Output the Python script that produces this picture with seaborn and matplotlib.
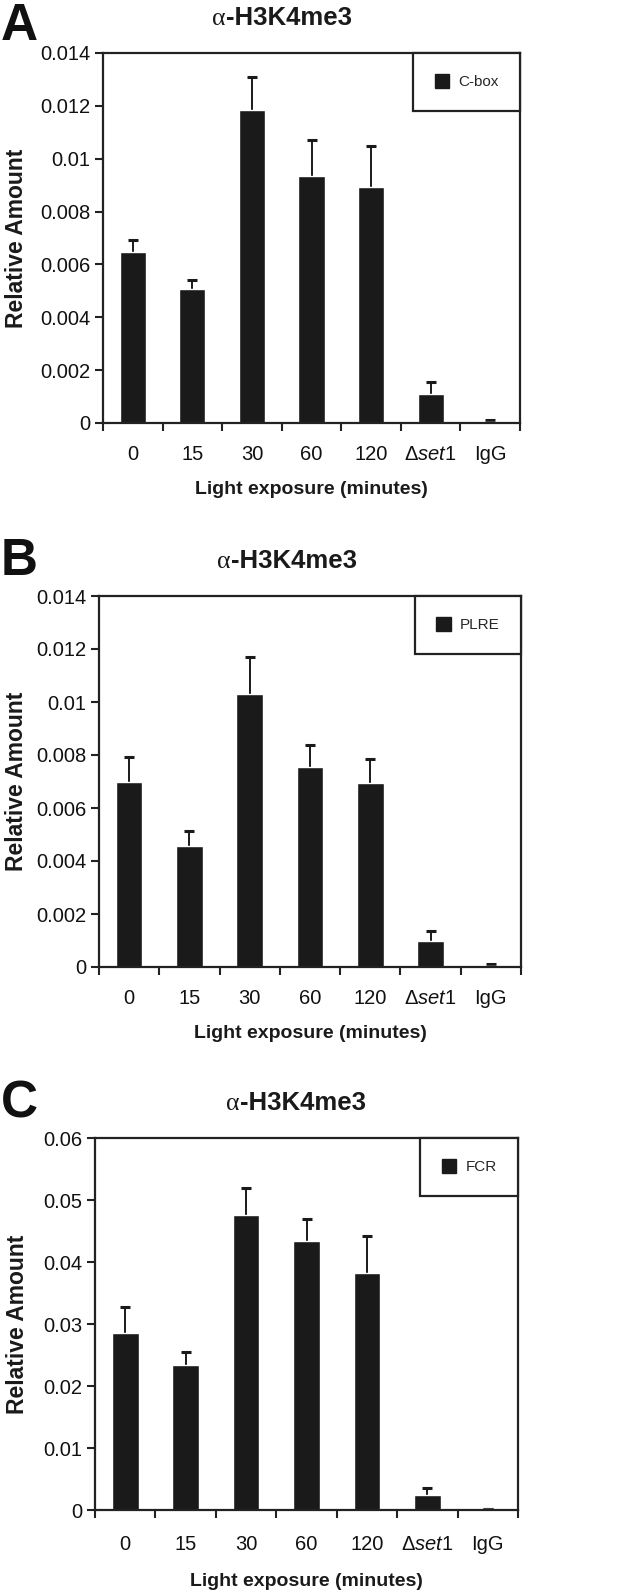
import matplotlib
matplotlib.use("Agg")
import matplotlib.pyplot as plt
import numpy as np
import pandas as pd
import seaborn as sns
from matplotlib.patches import Patch
from matplotlib.ticker import FuncFormatter, FixedLocator
from matplotlib.offsetbox import TextArea, HPacker, AnchoredOffsetbox

sns.set_theme(style="white")
plt.rcParams["font.family"] = ["Liberation Sans", "DejaVu Sans"]
plt.rcParams["mathtext.fontset"] = "custom"
plt.rcParams["mathtext.rm"] = "Liberation Sans"
plt.rcParams["mathtext.it"] = "Liberation Sans:italic"

conditions = ["0", "15", "30", "60", "120", "Δ$\\mathit{set1}$", "IgG"]

cbox_vals = [0.00646, 0.00506, 0.01184, 0.00935, 0.00894, 0.00110, 0.00005]
cbox_err = [0.00045, 0.00036, 0.00126, 0.00136, 0.00154, 0.00044, 0.00005]

plre_vals = [0.00697, 0.00455, 0.01032, 0.00755, 0.00696, 0.00100, 0.00005]
plre_err = [0.00095, 0.00057, 0.00138, 0.00083, 0.00090, 0.00037, 0.00005]

fcr_vals = [0.0285, 0.0234, 0.0476, 0.0434, 0.0383, 0.0024, 0.0002]
fcr_err = [0.0042, 0.0021, 0.0043, 0.0036, 0.0059, 0.0011, 0.0000]

panel_letters = ["A", "B", "C"]
regions = ["C-box", "PLRE", "FCR"]
y_max = [0.014, 0.014, 0.06]
y_step = [0.002, 0.002, 0.01]

W, H = 633, 1594
BAR = "#1a1a1a"
LINE = "#222222"

# axes boxes in pixels: left, top, right, bottom
boxes = [(103, 53, 520, 423), (99, 596, 521, 967), (95, 1138, 518, 1510)]
title_x = [282, 287, 296]
letter_base = [40, 575, 1118]
xlab_off = [66, 66, 71]
tick_pad = [16, 16, 18]

fig = plt.figure(figsize=(W / 100, H / 100), dpi=100)


def draw_panel(i, vals, errs):
    l, t, r, b = boxes[i]
    ax = fig.add_axes([l / W, 1 - b / H, (r - l) / W, (b - t) / H])
    df = pd.DataFrame({"cond": conditions, "value": vals})
    x = np.arange(len(vals))
    # error bars sit under the bars so only the upper half shows
    ax.errorbar(x, vals, yerr=errs, fmt="none", ecolor=BAR, elinewidth=1.4,
                capsize=3.5, capthick=2.2, zorder=0.5)
    sns.barplot(data=df, x="cond", y="value", color=BAR, saturation=1,
                width=0.44, errorbar=None, ax=ax, zorder=2)

    ax.set_xlim(-0.5, len(vals) - 0.5)
    ax.set_ylim(0, y_max[i])
    ax.set_yticks(np.arange(0, y_max[i] + y_step[i] / 2, y_step[i]))
    ax.yaxis.set_major_formatter(FuncFormatter(lambda v, p: f"{round(v, 4):g}"))
    ax.xaxis.set_minor_locator(FixedLocator(np.arange(-0.5, len(vals), 1.0)))
    ax.tick_params(axis="x", which="major", length=0, pad=tick_pad[i],
                   labelsize=14.5, colors="#111111")
    ax.tick_params(axis="x", which="minor", length=6, width=1.5,
                   direction="out", color=LINE, bottom=True)
    ax.tick_params(axis="y", length=6, width=1.5, direction="out",
                   labelsize=14.5, pad=3, color=LINE, labelcolor="#111111",
                   left=True)
    for sp in ax.spines.values():
        sp.set_visible(True)
        sp.set_linewidth(1.6)
        sp.set_color(LINE)
        sp.set_zorder(3)

    ax.set_xlabel("Light exposure (minutes)", fontsize=14, fontweight="bold",
                  color="#1a1a1a", va="center")
    ax.xaxis.set_label_coords(0.5, -xlab_off[i] / (b - t))
    ax.set_ylabel("Relative Amount", fontsize=16.5, fontweight="bold",
                  color="#1a1a1a", va="center")
    ax.yaxis.set_label_coords((17 - l) / (r - l), 0.5)

    leg = ax.legend(handles=[Patch(facecolor=BAR, edgecolor=BAR, label=regions[i])],
                    loc="upper right", borderaxespad=0, fontsize=11,
                    handlelength=0.95, handleheight=1.0, handletextpad=0.6,
                    borderpad=1.4, fancybox=False, framealpha=1)
    leg.get_frame().set_edgecolor(LINE)
    leg.get_frame().set_linewidth(1.6)

    # title: serif alpha + bold sans text
    t1 = TextArea("α", textprops=dict(family="Liberation Serif", size=18.5,
                                      color="#1a1a1a"))
    t2 = TextArea("-H3K4me3", textprops=dict(family="Liberation Sans", size=18.5,
                                             weight="bold", color="#1a1a1a"))
    pack = HPacker(children=[t1, t2], pad=0, sep=0, align="baseline")
    box = AnchoredOffsetbox(loc="center", child=pack, pad=0, borderpad=0,
                            frameon=False,
                            bbox_to_anchor=(title_x[i] / W, 1 - (t - 35) / H),
                            bbox_transform=fig.transFigure)
    fig.add_artist(box)

    fig.text(1 / W, 1 - letter_base[i] / H, panel_letters[i], fontsize=37,
             fontweight="bold", va="baseline", ha="left", color="#111111")
    return ax


draw_panel(0, cbox_vals, cbox_err)
draw_panel(1, plre_vals, plre_err)
draw_panel(2, fcr_vals, fcr_err)

fig.savefig("out.png", dpi=100)
